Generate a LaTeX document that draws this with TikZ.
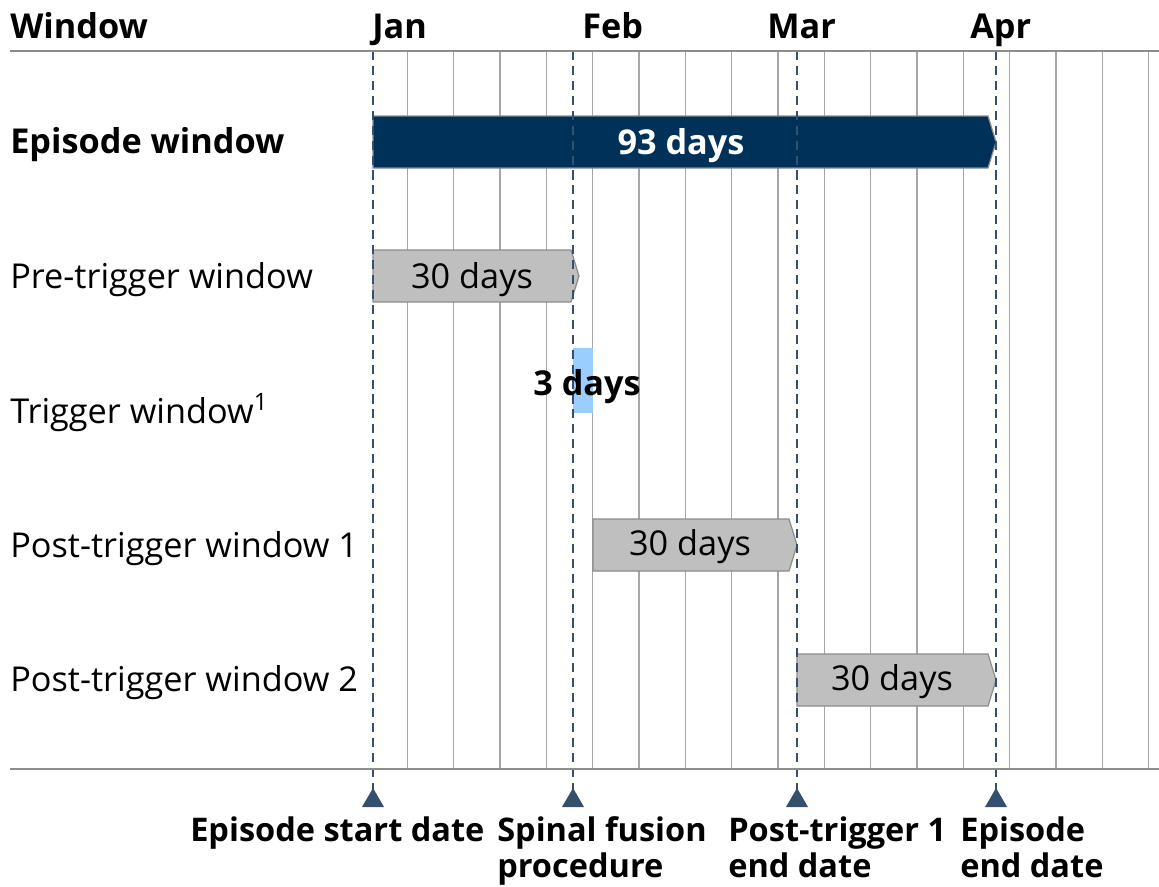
\documentclass[tikz,border=0pt]{standalone}
\usepackage{fontspec}
\setmainfont{Open Sans}
\usepackage{tikz}
\usetikzlibrary{positioning}
\definecolor{navy}{RGB}{0,49,88}
\definecolor{slate}{RGB}{52,80,110}
\definecolor{barfill}{RGB}{191,191,191}
\definecolor{barline}{RGB}{140,140,140}
\definecolor{trigblue}{RGB}{153,206,255}
\definecolor{gridgray}{RGB}{166,166,166}
\newcommand{\txt}{\fontsize{25.7}{27}\selectfont}
\newcommand{\smtxt}{\fontsize{24.4}{27}\selectfont}
% bar with pointed right end: from, to, centre y, style
\newcommand{\winbar}[4]{%
    \path[#4] (#1,#3-26) -- (#2-8,#3-26) -- (#2,#3) -- (#2-8,#3+26) -- (#1,#3+26) -- cycle;}

\begin{document}
\begin{tikzpicture}[
        x=0.75pt, y=-0.75pt,
        every node/.style={inner sep=0pt,font=\txt},
        lbl/.style={anchor=base west},
        bold/.style={font=\txt\bfseries},
        datelbl/.style={anchor=base west,align=left,font=\smtxt\bfseries},
        grid/.style={draw=gridgray,line width=1pt},
        axis/.style={draw=barline,line width=1.6pt},
        marker/.style={draw=slate,line width=2pt,dash pattern=on 6.8pt off 4.4pt},
        graybar/.style={fill=barfill,draw=barline,line width=0.9pt},
        navybar/.style={fill=navy,draw=barline,line width=0.9pt}
    ]
    \useasboundingbox (0,0) rectangle (1159,886);

    % week grid
    \foreach \i in {0,...,16}
        \draw[grid] ({407.2+46.33*\i},51) -- ({407.2+46.33*\i},769);

    % bars
    \winbar{373}{996}{142}{navybar}
    \winbar{373}{579}{276}{graybar}
    \fill[trigblue] (573,348) rectangle (593,413);
    \winbar{593}{797}{545}{graybar}
    \winbar{797}{996}{680}{graybar}

    % date markers
    \foreach \x/\n in {373/start,573/spine,797/post,996/end}{
        \coordinate (\n-top) at (\x,51);
        \coordinate (\n-tip) at (\x,790);
        \draw[marker] (\n-top) -- (\n-tip);
        \fill[slate] (\x,788) -- (\x+11,807) -- (\x-11,807) -- cycle;
    }

    \draw[axis] (10,51) -- (1159,51);
    \draw[axis] (10,769) -- (1159,769);

    % header
    \node[lbl,bold] (window) at (10,38) {Window};
    \node[lbl,bold] (jan) at (372,38) {Jan};
    \node[lbl,bold] (feb) at (582,38) {Feb};
    \node[lbl,bold] (mar) at (767,38) {Mar};
    \node[lbl,bold] (apr) at (970,38) {Apr};

    % rows
    \node[lbl,bold] (episode) at (10,153) {Episode window};
    \node[lbl] (pre) at (10,288) {Pre-trigger window};
    \node[lbl] (trig) at (10,423) {Trigger window\textsuperscript{1}};
    \node[lbl] (post1) at (10,557) {Post-trigger window 1};
    \node[lbl] (post2) at (10,691) {Post-trigger window 2};

    \node[anchor=base,bold,text=white] (episode-days) at (681,154) {93 days};
    \node[anchor=base] (pre-days) at (472,288) {30 days};
    \node[anchor=base,bold] (trig-days) at (587,395) {3 days};
    \node[anchor=base] (post1-days) at (690,555) {30 days};
    \node[anchor=base] (post2-days) at (892,690) {30 days};

    % marker labels
    \node[datelbl] (start-lbl) at (190,841) {Episode start date};
    \node[datelbl] (spine-lbl) at (497,877) {Spinal fusion\\procedure};
    \node[datelbl] (post-lbl) at (728,877) {Post-trigger 1\\end date};
    \node[datelbl] (end-lbl) at (960,877) {Episode\\end date};
\end{tikzpicture}
\end{document}
